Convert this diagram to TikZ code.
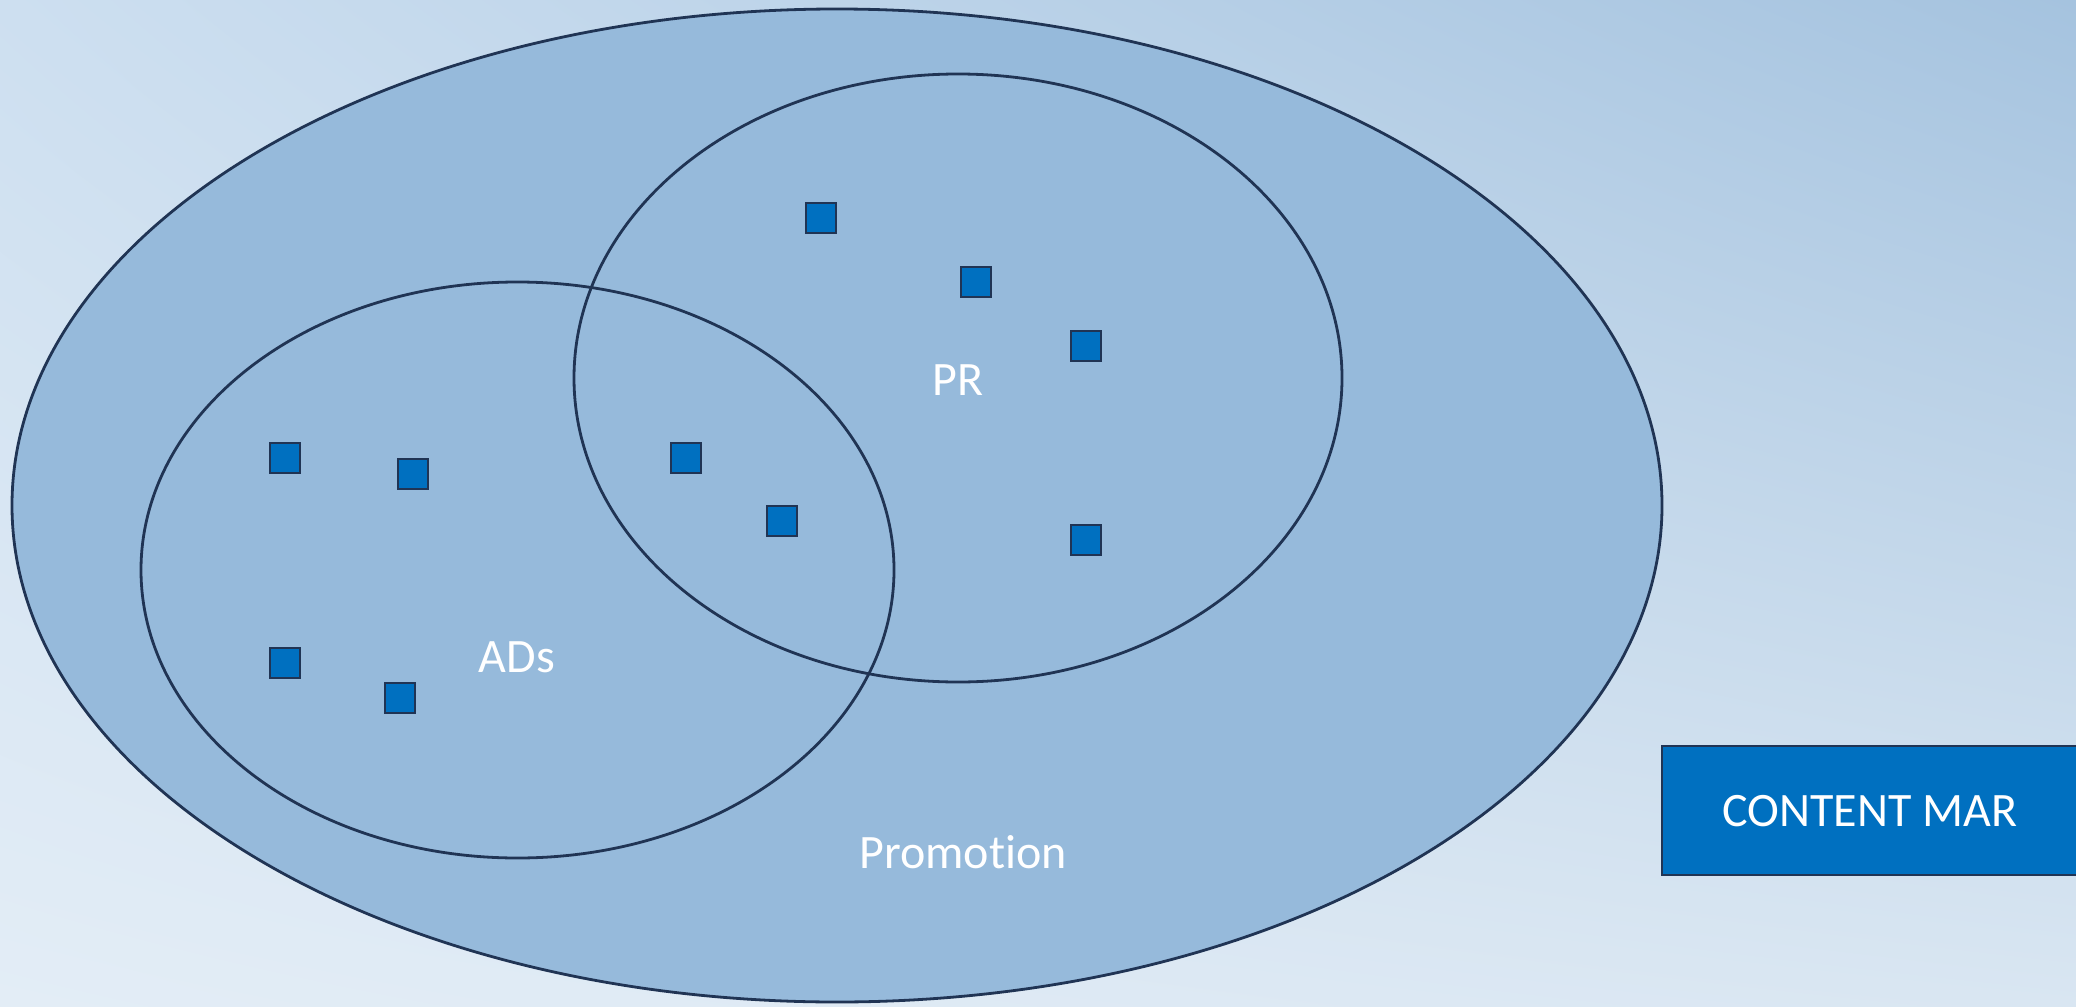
\documentclass[tikz,border=0pt]{standalone}
\usepackage{fontspec}
\setmainfont{Carlito}[Ligatures=NoCommon]
\usetikzlibrary{shapes.geometric,shadings}
\definecolor{bgTL}{HTML}{CDDFF0}
\definecolor{bgTR}{HTML}{A5C3DF}
\definecolor{bgBL}{HTML}{E3EDF6}
\definecolor{bgBR}{HTML}{D9E6F2}
\definecolor{ellfill}{HTML}{96BADB}
\definecolor{edge}{HTML}{203454}
\definecolor{boxblue}{HTML}{0070C0}
\tikzset{
  oval/.style={ellipse, draw=edge, line width=2.8pt, inner sep=0pt},
  sq/.style={rectangle, draw=edge, fill=boxblue, line width=2.6pt, minimum size=30pt, inner sep=0pt},
  lbl/.style={text=white, font=\fontsize{48}{58}\selectfont, anchor=base, inner sep=0pt}
}
\begin{document}
\begin{tikzpicture}[x=1pt,y=-1pt]
\useasboundingbox (0,0) rectangle (2076,1006);
\shade[upper left=bgTL, upper right=bgTR, lower left=bgBL, lower right=bgBR] (0,0) rectangle (2076,1006);
% ellipses
\node[oval, fill=ellfill, minimum width=1650pt, minimum height=993pt] (promo) at (837,505.5) {};
\node[oval, minimum width=768pt, minimum height=608pt] (pr) at (958,378) {};
\node[oval, minimum width=753pt, minimum height=576pt] (ads) at (517.5,570) {};
% squares
\node[sq] (s1) at (821,218) {};
\node[sq] (s2) at (976,282) {};
\node[sq] (s3) at (1086,346) {};
\node[sq] (s4) at (686,458) {};
\node[sq] (s5) at (782,521) {};
\node[sq] (s6) at (1086,540) {};
\node[sq] (s7) at (285,458) {};
\node[sq] (s8) at (413,474) {};
\node[sq] (s9) at (285,663) {};
\node[sq] (s10) at (400,698) {};
% labels
\node[lbl] (prl) at (958,395) {PR};
\node[lbl] (adsl) at (517,672) {ADs};
\node[lbl] (promol) at (963,868) {Promotion};
% content box
\begin{scope}
\clip (0,0) rectangle (2076,1006);
\draw[draw=edge, fill=boxblue, line width=2.8pt] (1662,746) rectangle (2100,875);
\end{scope}
\coordinate (cbox) at (1870,826);
\node[lbl] (content) at (cbox) {CONTENT MAR};
\end{tikzpicture}
\end{document}
